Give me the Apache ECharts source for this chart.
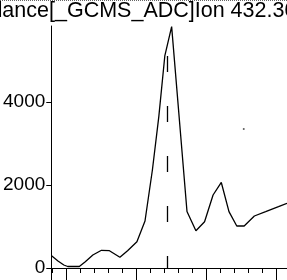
<!DOCTYPE html>
<html>
<head>
<meta charset="utf-8">
<script src="https://cdn.jsdelivr.net/npm/echarts@6/dist/echarts.min.js"></script>
<style>
html,body{margin:0;padding:0;background:#fff;}
#c{width:287px;height:280px;}
</style>
</head>
<body>
<div id="c"></div>
<script>
// retention positions (axis units: one minor tick = 1) and abundances
const times = [-1.1, -0.62, -0.2, 0.08, 0.91, 1.34, 1.88, 2.5, 3.07, 3.82, 4.37, 5.04, 5.62, 6.15, 6.61, 7.04, 7.53, 8.63, 9.27, 9.89, 10.5, 11.09, 11.64, 12.2, 12.73, 13.46, 14.27, 15.19, 15.8];
const abundance = [300, 169, 72, 36, 36, 152, 313, 427, 417, 258, 417, 634, 1133, 2362, 3646, 5109, 5815, 1362, 897, 1116, 1759, 2061, 1357, 1012, 1012, 1253, 1357, 1477, 1560];
const yTicks = [0, 2000, 4000];
const yTickLabels = ['0', '2000', '4000'];
const markerTime = [7.25];
const markerTop = [5110];
const speck = [[12.7, 3350]];
const titleText = 'Abundance[_GCMS_ADC]Ion 432.30';

const lineData = times.map((t, i) => [t, abundance[i]]);

const chart = echarts.init(document.getElementById('c'), null, {renderer: 'canvas'});
chart.setOption({
  animation: false,
  backgroundColor: '#ffffff',
  grid: {left: 48, right: -5, top: 26, bottom: 12, containLabel: false},
  xAxis: {
    type: 'value',
    min: -1.1,
    max: 15.8,
    splitNumber: 3,
    minInterval: 5,
    maxInterval: 5,
    axisLine: {show: true, onZero: false, lineStyle: {color: '#000', width: 1}},
    axisTick: {show: true, inside: false, length: 12, lineStyle: {color: '#000', width: 1}},
    minorTick: {show: true, splitNumber: 5, length: 5, lineStyle: {color: '#000', width: 1}},
    axisLabel: {show: false},
    splitLine: {show: false}
  },
  yAxis: {
    type: 'value',
    min: 0,
    max: 5831,
    axisLine: {show: true, onZero: false, lineStyle: {color: '#000', width: 1}},
    axisTick: {show: true, inside: false, length: 5, customValues: yTicks, lineStyle: {color: '#000', width: 1}},
    axisLabel: {
      show: true, margin: 6, customValues: yTicks,
      formatter: v => yTickLabels[yTicks.indexOf(v)] ?? '',
      color: '#000', fontSize: 19, fontFamily: 'Liberation Sans'
    },
    splitLine: {show: false}
  },
  series: [
    {
      type: 'line',
      data: lineData,
      symbol: 'none',
      smooth: false,
      clip: true,
      lineStyle: {color: '#000', width: 1.3},
      markLine: {
        symbol: 'none',
        silent: true,
        label: {show: false},
        lineStyle: {color: '#000', width: 1.3, type: [16, 34]},
        data: [[{coord: [markerTime[0], markerTop[0]]}, {coord: [markerTime[0], 0]}]]
      }
    },
    {
      type: 'scatter',
      data: speck,
      symbol: 'circle',
      symbolSize: 2,
      itemStyle: {color: '#333'}
    }
  ],
  graphic: [
    {
      type: 'text',
      x: -59.8, y: 11.5,
      style: {text: titleText, fontSize: 21.5, fontFamily: 'Liberation Sans', fill: '#000', verticalAlign: 'middle', align: 'left'}
    },
    {
      type: 'line',
      shape: {x1: 0, y1: 0.5, x2: 287, y2: 0.5},
      style: {stroke: '#666', lineWidth: 1, lineDash: [1, 1]}
    }
  ]
});
</script>
</body>
</html>
